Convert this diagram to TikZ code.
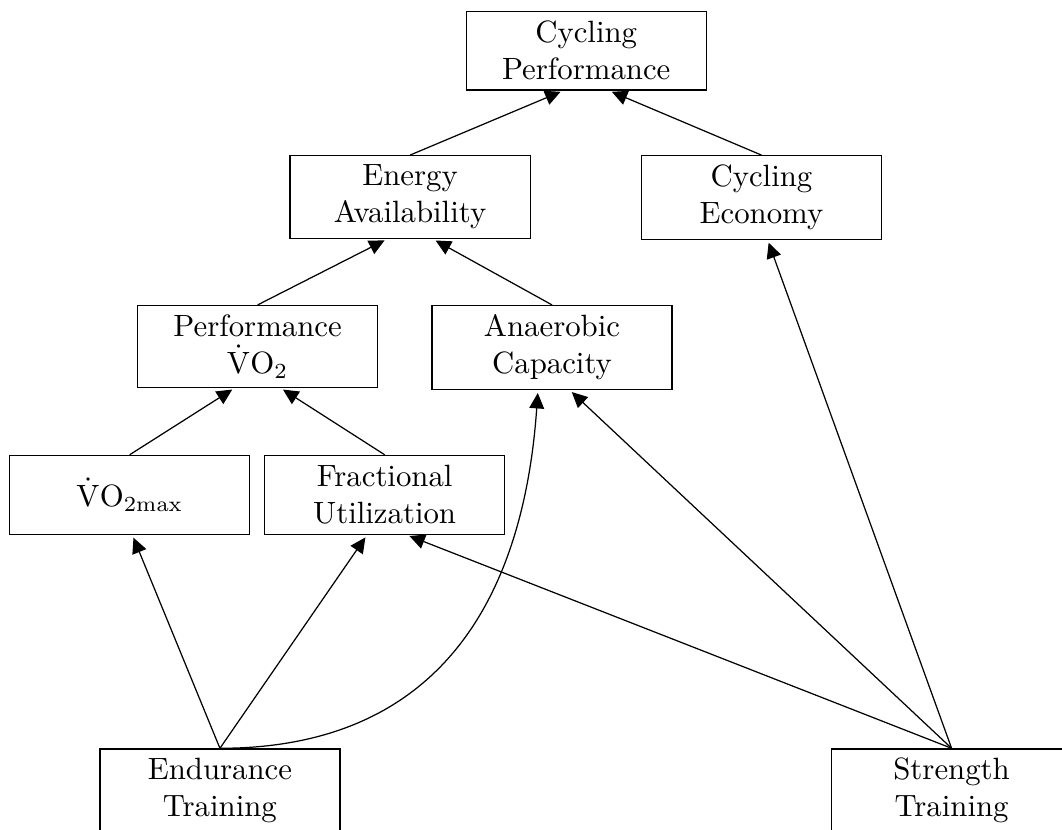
\documentclass[tikz,border=0pt]{standalone}
\usepackage{amsmath}
\usepackage{tikz}
\usetikzlibrary{arrows.meta}

\begin{document}
\begin{tikzpicture}[scale=1.0,
    factor/.style={draw, align=center, anchor=north, minimum width=2.74cm, minimum height=0.9cm, inner sep=3pt},
    link/.style={-{Triangle[length=5pt,width=4.8pt]}, shorten >=1pt}]
  % Fixed frame of the figure
  \useasboundingbox (0,0) rectangle (12.12,9.47);
  % Top level
  \node[factor] (perf) at (6.69,9.35) {Cycling\\Performance};
  % Second level
  \node[factor] (energy)  at (4.68,7.70) {Energy\\Availability};
  \node[factor] (economy) at (8.69,7.70) {Cycling\\Economy};
  % Third level
  \node[factor] (pvo)   at (2.94,5.99) {Performance\\$\dot{\mathrm{V}}\mathrm{O}_2$};
  \node[factor] (anaer) at (6.30,5.99) {Anaerobic\\Capacity};
  % Fourth level
  \node[factor] (vomax) at (1.48,4.28) {$\dot{\mathrm{V}}\mathrm{O}_{2\mathrm{max}}$};
  \node[factor] (frac)  at (4.39,4.28) {Fractional\\Utilization};
  % Training inputs (cut by the lower edge)
  \node[factor] (endur)    at (2.51,0.93)  {Endurance\\Training};
  \node[factor] (strength) at (10.86,0.93) {Strength\\Training};
  % Links inside the model
  \draw[link] (energy.north)  -- ([xshift=-0.26cm]perf.south);
  \draw[link] (economy.north) -- ([xshift=0.26cm]perf.south);
  \draw[link] (pvo.north)     -- ([xshift=-0.26cm]energy.south);
  \draw[link] (anaer.north)   -- ([xshift=0.26cm]energy.south);
  \draw[link] (vomax.north)   -- ([xshift=-0.26cm]pvo.south);
  \draw[link] (frac.north)    -- ([xshift=0.26cm]pvo.south);
  % Endurance training effects
  \draw[link] (endur.north) -- ([xshift=0.03cm]vomax.south);
  \draw[link] (endur.north) -- ([xshift=-0.2cm]frac.south);
  \draw[link] (endur.north) to[out=0, in=-94, looseness=1.15] ([xshift=-0.16cm]anaer.south);
  % Strength training effects
  \draw[link] (strength.north) -- ([xshift=0.25cm]frac.south);
  \draw[link] (strength.north) -- ([xshift=0.2cm]anaer.south);
  \draw[link] (strength.north) -- ([xshift=0.07cm]economy.south);
\end{tikzpicture}
\end{document}
